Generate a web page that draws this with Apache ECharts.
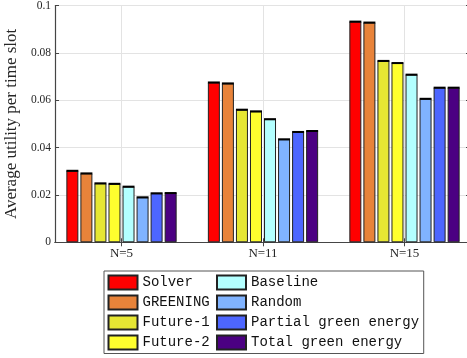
<!DOCTYPE html>
<html><head><meta charset="utf-8">
<script src="https://cdn.jsdelivr.net/npm/echarts@6/dist/echarts.min.js"></script>
<style>html,body{margin:0;padding:0;background:#fff}#c{width:467px;height:358px}</style>
</head><body><div id="c"></div>
<script>
// ---- data ----
const categories = ['N=5', 'N=11', 'N=15'];
const categoryPositions = [1, 2, 3];
const seriesNames = ['Solver', 'GREENING', 'Future-1', 'Future-2', 'Baseline', 'Random', 'Partial green energy', 'Total green energy'];
const solver   = [0.0302, 0.0675, 0.0932];
const greening = [0.0291, 0.0671, 0.0928];
const future1  = [0.0249, 0.0560, 0.0766];
const future2  = [0.0247, 0.0553, 0.0757];
const baseline = [0.0235, 0.0520, 0.0708];
const random   = [0.0190, 0.0435, 0.0606];
const partialGreen = [0.0207, 0.0466, 0.0653];
const totalGreen   = [0.0208, 0.0470, 0.0653];
const yTicks = [0, 0.02, 0.04, 0.06, 0.08, 0.1];

const allValues = [solver, greening, future1, future2, baseline, random, partialGreen, totalGreen];
const colors = ['#ff0000', '#e8833a', '#e6e633', '#ffff2e', '#b3ffff', '#80b3ff', '#4d66ff', '#4b0082'];

const barW = 12, gapPct = 0.17;
const pitch = barW * (1 + gapPct);
const serif = "'Liberation Serif','DejaVu Serif',serif";
const mono = "'Liberation Mono','DejaVu Sans Mono',monospace";
const axisCol = '#454545';

const series = seriesNames.map((name, i) => ({
  name: name,
  type: 'bar',
  xAxisIndex: 0, yAxisIndex: 0,
  barWidth: barW,
  barGap: (gapPct * 100) + '%',
  data: allValues[i].map((v, j) => [categoryPositions[j], v]),
  itemStyle: { color: colors[i], borderColor: '#222', borderWidth: 1 },
  emphasis: { disabled: true }
}));

const capData = [];
allValues.forEach((arr, i) => arr.forEach((v, j) => capData.push([categoryPositions[j], v, i])));
series.push({
  name: 'caps', type: 'custom', xAxisIndex: 0, yAxisIndex: 0, silent: true, z: 5,
  data: capData,
  renderItem: function (params, api) {
    const p = api.coord([api.value(0), api.value(1)]);
    const k = api.value(2);
    const cx = p[0] + (k - 3.5) * pitch;
    return { type: 'rect', shape: { x: cx - barW / 2, y: p[1] - 1, width: barW, height: 2 }, style: { fill: '#000' } };
  }
});

const labelMap = {};
categoryPositions.forEach((p, i) => labelMap[p] = categories[i]);

const legendText = { fontFamily: mono, fontSize: 14, color: '#111' };

const chart = echarts.init(document.getElementById('c'), null, { renderer: 'canvas' });
chart.setOption({
  animation: false,
  backgroundColor: '#fff',
  grid: { left: 55, right: -4, top: 5.5, bottom: 115.7, containLabel: false, outerBoundsMode: 'none' },
  xAxis: [{
    type: 'value', position: 'bottom', min: 0.53, max: 3.47,
    axisLine: { show: true, lineStyle: { color: axisCol, width: 1.2 } },
    axisTick: { show: true, inside: true, length: 4, lineStyle: { color: axisCol }, customValues: categoryPositions },
    axisLabel: { customValues: categoryPositions, formatter: v => labelMap[v] || '', fontFamily: serif, fontSize: 13, color: '#262626', margin: 5 },
    splitLine: { show: true, lineStyle: { color: '#e3e3e3', width: 1 } }
  }, {
    type: 'value', position: 'top', min: 0.53, max: 3.47,
    axisLine: { show: true, lineStyle: { color: axisCol, width: 1.2 } },
    axisTick: { show: true, inside: true, length: 4, lineStyle: { color: axisCol }, customValues: categoryPositions },
    axisLabel: { show: false }, splitLine: { show: false }
  }],
  yAxis: [{
    type: 'value', position: 'left', min: 0, max: 0.1, interval: 0.02,
    name: 'Average utility per time slot', nameLocation: 'middle', nameGap: 33, nameRotate: 90,
    nameTextStyle: { fontFamily: serif, fontSize: 17, color: '#262626' },
    axisLine: { show: true, lineStyle: { color: axisCol, width: 1.2 } },
    axisTick: { show: true, inside: true, length: 4, lineStyle: { color: axisCol } },
    axisLabel: { formatter: v => { const t = yTicks.find(y => Math.abs(y - v) < 1e-9); return t === undefined ? '' : String(t); }, fontFamily: serif, fontSize: 11.5, color: '#262626', margin: 4 },
    splitLine: { show: true, lineStyle: { color: '#e3e3e3', width: 1 } }
  }, {
    type: 'value', position: 'right', min: 0, max: 0.1, interval: 0.02,
    axisLine: { show: true, lineStyle: { color: axisCol, width: 1.2 } },
    axisTick: { show: true, inside: true, length: 5, lineStyle: { color: axisCol } },
    axisLabel: { show: false }, splitLine: { show: false }
  }],
  legend: [{
    data: seriesNames.slice(0, 4), orient: 'vertical', left: 104, top: 271, height: 150,
    padding: [3.5, 214, 3, 3.5], itemWidth: 29, itemHeight: 14, itemGap: 4, icon: 'rect',
    borderColor: '#555', borderWidth: 1, backgroundColor: '#fff',
    textStyle: legendText, selectedMode: false
  }, {
    data: seriesNames.slice(4), orient: 'vertical', left: 216, top: 274.5, height: 150,
    padding: 0, itemWidth: 29, itemHeight: 14, itemGap: 4, icon: 'rect',
    textStyle: legendText, selectedMode: false
  }],
  series: series
});
</script></body></html>
